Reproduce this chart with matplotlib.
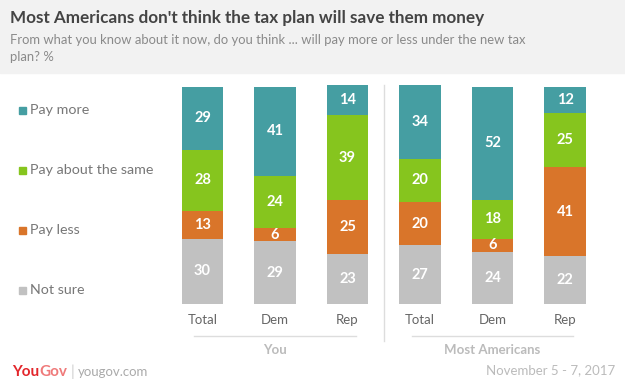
import matplotlib.pyplot as plt
import numpy as np

groups = ['You', 'Most Americans']
subgroups = ['Total', 'Dem', 'Rep', 'Total', 'Dem', 'Rep']
categories = ['Pay more', 'Pay about the same', 'Pay less', 'Not sure']
pay_more = [29, 41, 14, 34, 52, 12]
pay_same = [28, 24, 39, 20, 18, 25]
pay_less = [13, 6, 25, 20, 6, 41]
not_sure = [30, 29, 23, 27, 24, 22]
colors = ['#459ea2', '#86c51e', '#d9752a', '#c1c1c1']

W, H = 625, 385
fig = plt.figure(figsize=(W / 100, H / 100), dpi=100)
plt.rcParams['font.family'] = ['Lato', 'DejaVu Sans']


def fx(px):
    return px / W


def fy(py):
    return 1 - py / H


# header band
fig.patches.append(plt.Rectangle((0, fy(73)), 1, 73 / H, transform=fig.transFigure,
                                 color='#f2f2f2', zorder=0))
fig.text(fx(10), fy(18), "Most Americans don't think the tax plan will save them money",
         fontsize=12.3, fontweight='bold', color='#444444', va='center')
fig.text(fx(10), fy(40), "From what you know about it now, do you think ... will pay more or less under the new tax",
         fontsize=9.4, color='#8a8a8a', va='center')
fig.text(fx(10), fy(57), "plan? %", fontsize=9.4, color='#8a8a8a', va='center')

# bars
left = 202.5 - 36.25
ax = fig.add_axes([fx(left), fy(304), (72.5 * 6) / W, 217 / H])
x = np.arange(len(subgroups))
series = [not_sure, pay_less, pay_same, pay_more]
series_colors = colors[::-1]
bottom = np.zeros(len(subgroups))
for vals, c in zip(series, series_colors):
    vals = np.array(vals)
    ax.bar(x, vals, bottom=bottom, width=0.566, color=c, linewidth=0, clip_on=False)
    for xi, b, v in zip(x, bottom, vals):
        ax.text(xi, b + v / 2, str(v), ha='center', va='center', color='white',
                fontsize=10.5, fontweight='bold')
    bottom += vals
ax.set_xlim(-0.5, 5.5)
ax.set_ylim(0, 100)
ax.axis('off')

# legend
for i, (cat, c) in enumerate(zip(categories, colors)):
    yy = 110 + i * 60
    fig.patches.append(plt.Rectangle((fx(19), fy(yy + 3.5)), 7 / W, 7 / H,
                                     transform=fig.transFigure, color=c))
    fig.text(fx(30), fy(yy), cat, fontsize=10.3, color='#777777', va='center')

# tick labels
for xi, lab in zip(x, subgroups):
    px = 202.5 + 72.5 * xi
    fig.text(fx(px), fy(320), lab, fontsize=9.5, color='#666666', ha='center', va='center')

# divider
fig.add_artist(plt.Line2D([fx(384), fx(384)], [fy(85), fy(341)], color='#dddddd', lw=1))

# group underlines and labels
for gi, g in enumerate(groups):
    c0 = 202.5 + 72.5 * 3 * gi
    c2 = c0 + 145
    fig.add_artist(plt.Line2D([fx(c0 - 8), fx(c2 + 8)], [fy(336), fy(336)], color='#dddddd', lw=1))
    fig.text(fx((c0 + c2) / 2), fy(350), g, fontsize=9.5, fontweight='bold', color='#bbbbbb',
             ha='center', va='center')

# footer
fig.text(fx(615), fy(370), 'November 5 - 7, 2017', fontsize=9.5, color='#bbbbbb', ha='right', va='center')
renderer = fig.canvas.get_renderer()
t1 = fig.text(fx(12), fy(372), 'You', fontsize=11, fontweight='bold', color='#e3262b', va='center')
x1 = t1.get_window_extent(renderer).x1
t2 = fig.text(x1 / W, fy(372), 'Gov', fontsize=11, fontweight='bold', color='#ef7a7a', va='center')
x2 = t2.get_window_extent(renderer).x1
fig.text((x2 + 4) / W, fy(372), '|', fontsize=11, color='#cccccc', va='center')
fig.text((x2 + 11) / W, fy(372), 'yougov.com', fontsize=9.5, color='#aaaaaa', va='center')

fig.savefig('out.png', dpi=100)
